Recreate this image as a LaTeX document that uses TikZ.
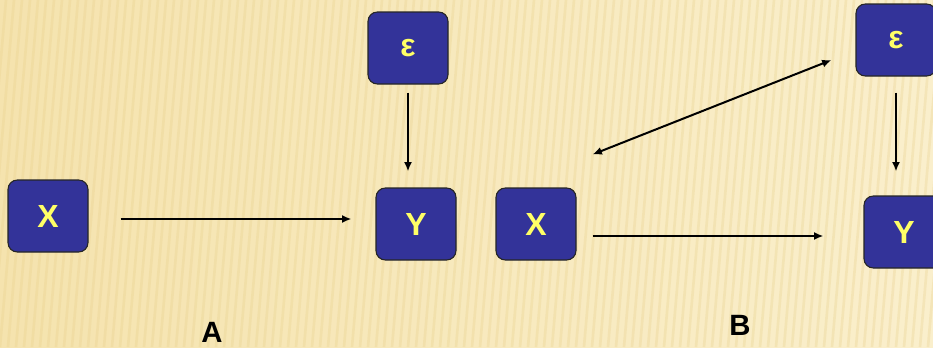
\documentclass[tikz,border=0pt]{standalone}
\usepackage{fontspec}
\setmainfont{Liberation Sans}
\usetikzlibrary{arrows.meta}
\definecolor{boxfill}{HTML}{333399}
\definecolor{boxtext}{HTML}{FFFF66}
\definecolor{bgA}{HTML}{F5E3AE}
\definecolor{bgB}{HTML}{FAEFCC}
\definecolor{stripe}{HTML}{E8D08A}
\tikzset{
  box/.style={draw=black!85, line width=0.8pt, fill=boxfill, rounded corners=7pt,
    minimum width=60pt, minimum height=54pt, inner sep=0pt,
    text=boxtext, font=\bfseries\fontsize{24}{24}\selectfont},
  conn/.style={line width=1.5pt, -{Latex[length=7pt,width=6pt]}},
  biconn/.style={line width=1.5pt, {Latex[length=7pt,width=6pt]}-{Latex[length=7pt,width=6pt]}},
  lbl/.style={font=\bfseries\fontsize{22}{22}\selectfont, text=black, inner sep=0pt}
}
\begin{document}
\begin{tikzpicture}[x=0.75pt,y=-0.75pt]
\useasboundingbox (0,0) rectangle (933,347);
\shade[left color=bgA, right color=bgB] (0,0) rectangle (933,347);
\begin{scope}
\clip (0,0) rectangle (933,347);
\foreach \i in {-20,...,130} {
  \draw[stripe, line width=2pt, opacity=0.3] (\i*8,347) -- (\i*8+30,0);
}
\end{scope}
\node[box] (XA) at (48,216) {X};
\node[box] (EA) at (408,48) {ε};
\node[box] (YA) at (416,224) {Y};
\node[box] (XB) at (536,224) {X};
\node[box] (EB) at (896,40) {ε};
\node[box] (YB) at (904,232) {Y};
\draw[conn] ([shift={(32,3)}]XA.east) -- ([shift={(-24,-5)}]YA.west);
\draw[conn] ([shift={(0,8)}]EA.south) -- ([shift={(-8,-16)}]YA.north);
\draw[conn] ([shift={(16,12)}]XB.east) -- ([shift={(-40,4)}]YB.west);
\draw[biconn] ([shift={(16,-33)}]XB.north east) -- ([shift={(-24,20)}]EB.west);
\draw[conn] ([shift={(0,16)}]EB.south) -- ([shift={(-8,-24)}]YB.north);
\node[lbl] (LA) at (212,332) {A};
\node[lbl] (LB) at (740,325) {B};
\end{tikzpicture}
\end{document}
